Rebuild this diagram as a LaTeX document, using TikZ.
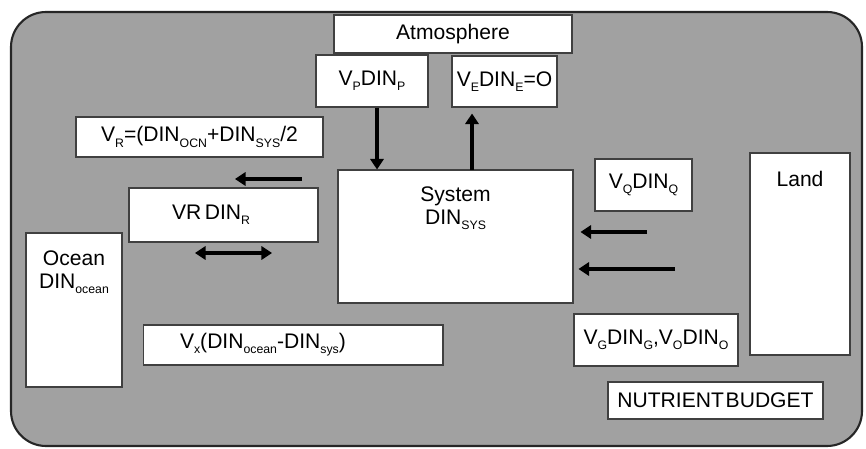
\documentclass[tikz,border=0pt]{standalone}
\usepackage{fontspec}
\setmainfont{Liberation Sans}
\usetikzlibrary{arrows.meta}

\newcommand{\lowsub}[1]{\raisebox{-3pt}{\fontsize{7}{8}\selectfont #1}}
\newcommand{\toptext}[3]{\parbox[c][#1][t]{#2}{\centering #3}}

\begin{document}
\begin{tikzpicture}[
    x=0.02cm, y=-0.02cm,
    box/.style={rectangle, draw=black!75, line width=0.6pt, fill=white, align=center, inner sep=1pt, font=\fontsize{12}{13}\selectfont},
    flow/.style={-{Triangle[length=6pt,width=7.5pt]}, line width=2.8pt},
    twoway/.style={{Triangle[length=6pt,width=7.5pt]}-{Triangle[length=6pt,width=7.5pt]}, line width=2.8pt}
]
    \useasboundingbox (0,0) rectangle (866,449);
    \filldraw[fill=black!37, draw=black!85, line width=1.2pt, rounded corners=0.7cm] (11,12) rectangle (862,446);

    % boxes
    \node (atm) [box, minimum width=4.76cm, minimum height=0.76cm] at (453,34) {Atmosphere};
    \node (vp) [box, minimum width=2.24cm, minimum height=1.04cm] at (372,81) {V\lowsub{P}DIN\lowsub{P}};
    \node (ve) [box, minimum width=2.1cm, minimum height=1.02cm] at (504.5,81.5) {V\lowsub{E}DIN\lowsub{E}=O};
    \node (vr) [box, minimum width=4.94cm, minimum height=0.8cm] at (199.5,137) {V\lowsub{R}=(DIN\lowsub{OCN}+DIN\lowsub{SYS}/2};
    \node (vrdin) [box, minimum width=3.78cm, minimum height=1.08cm] at (223.5,215) {VR\kern2pt DIN\lowsub{R}\kern0.5cm};
    \node (sys) [box, minimum width=4.7cm, minimum height=2.66cm] at (455.5,236.5) {\toptext{1.98cm}{3cm}{System\\DIN\lowsub{SYS}}};
    \node (vq) [box, minimum width=1.94cm, minimum height=1.04cm] at (643.5,185) {V\lowsub{Q}DIN\lowsub{Q}};
    \node (land) [box, minimum width=2cm, minimum height=4.04cm] at (800,254) {\toptext{3.32cm}{1.8cm}{Land}};
    \node (ocean) [box, minimum width=1.92cm, minimum height=3.08cm] at (74,310) {\toptext{2.36cm}{1.8cm}{Ocean\\DIN\lowsub{ocean}}};
    \node (vx) [box, minimum width=6cm, minimum height=0.8cm, text width=4.52cm, align=left, inner xsep=0.74cm] at (293,345) {V\lowsub{x}(DIN\lowsub{ocean}-DIN\lowsub{sys})};
    \node (vg) [box, minimum width=3.28cm, minimum height=1.04cm] at (656,340) {V\lowsub{G}DIN\lowsub{G},V\lowsub{O}DIN\lowsub{O}};
    \node (budget) [box, minimum width=4.3cm, minimum height=0.74cm] at (715.5,400.5) {NUTRIENT\kern1pt BUDGET};

    % free arrow ends
    \coordinate (evap) at (472,170);
    \coordinate (rtail) at (302,179);
    \coordinate (rhead) at (235,179);
    \coordinate (xleft) at (195,253);
    \coordinate (xright) at (272,253);
    \coordinate (qtail) at (647,232);
    \coordinate (gtail) at (675,269);

    \draw [flow] ([xshift=0.1cm]vp.south) -- ([xshift=0.1cm]vp.south |- sys.north);
    \draw [flow, shorten >=0.12cm] (evap) -- (evap |- ve.south);
    \draw [flow] (rtail) -- (rhead);
    \draw [twoway] (xleft) -- (xright);
    \draw [flow, shorten >=0.14cm] (qtail) -- (qtail -| sys.east);
    \draw [flow, shorten >=0.1cm] (gtail) -- (gtail -| sys.east);
\end{tikzpicture}
\end{document}
